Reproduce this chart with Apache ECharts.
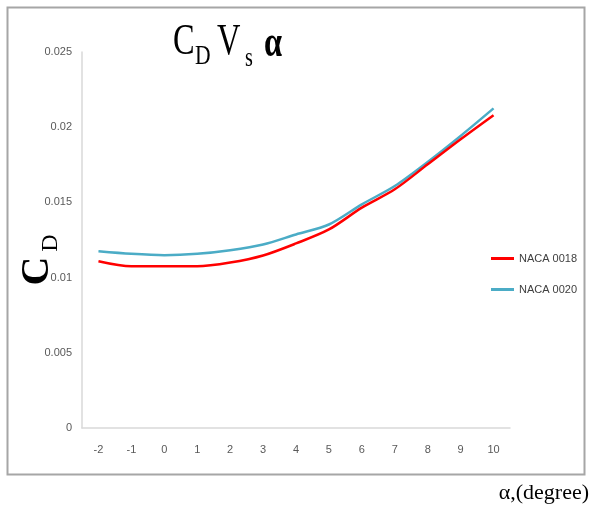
<!DOCTYPE html>
<html>
<head>
<meta charset="utf-8">
<script src="https://cdn.jsdelivr.net/npm/echarts@6/dist/echarts.min.js"></script>
<style>
html,body{margin:0;padding:0;background:#fff;}
#chart{width:590px;height:510px;}
</style>
</head>
<body>
<div id="chart"></div>
<script>
var categories = ['-2','-1','0','1','2','3','4','5','6','7','8','9','10'];
var naca0018 = [0.01109,0.01075,0.01075,0.01075,0.01100,0.01147,0.01227,0.01320,0.01465,0.01587,0.01753,0.01920,0.02080];
var naca0020 = [0.01175,0.01158,0.01149,0.01158,0.01182,0.01220,0.01287,0.01353,0.01487,0.01609,0.01769,0.01942,0.02125];
var seriesNames = ['NACA 0018','NACA 0020'];
var yTicks = {min:0, max:0.025, interval:0.005};

var chart = echarts.init(document.getElementById('chart'));
var serif = '"Liberation Serif","DejaVu Serif",serif';
var sans = '"Liberation Sans",Arial,sans-serif';
var option = {
  animation:false,
  backgroundColor:'#ffffff',
  grid:{left:82, right:80, top:52, bottom:82, containLabel:false},
  legend:{
    orient:'vertical', left:486, top:248, itemGap:20,
    itemWidth:23, itemHeight:3,
    textStyle:{fontFamily:sans, fontSize:11, color:'#404040'},
    data:[
      {name:seriesNames[0], icon:'rect'},
      {name:seriesNames[1], icon:'rect'}
    ]
  },
  xAxis:{
    type:'category', data:categories, boundaryGap:true,
    axisLine:{lineStyle:{color:'#d9d9d9', width:1.5}},
    axisTick:{show:false},
    axisLabel:{color:'#595959', fontFamily:sans, fontSize:11, margin:16}
  },
  yAxis:{
    type:'value', min:yTicks.min, max:yTicks.max, interval:yTicks.interval,
    axisLine:{show:true, lineStyle:{color:'#d9d9d9', width:1.5}},
    axisTick:{show:false},
    splitLine:{show:false},
    axisLabel:{color:'#595959', fontFamily:sans, fontSize:11, margin:10}
  },
  series:[
    {name:seriesNames[0], type:'line', data:naca0018, smooth:0.3, showSymbol:false,
     itemStyle:{color:'#ff0000'}, lineStyle:{color:'#ff0000', width:2.5}, z:3},
    {name:seriesNames[1], type:'line', data:naca0020, smooth:0.3, showSymbol:false,
     itemStyle:{color:'#4bacc6'}, lineStyle:{color:'#4bacc6', width:2.5}, z:2}
  ],
  graphic:[
    {type:'rect', left:5, top:5, shape:{x:0,y:0,width:577,height:467}, style:{fill:'none', stroke:'#a6a6a6', lineWidth:2}, silent:true},
    {type:'text', x:173, y:42, scaleX:0.72, style:{text:'C', font:'45px '+serif, fill:'#000', textAlign:'left', textVerticalAlign:'middle'}},
    {type:'text', x:195, y:57, scaleX:0.8, style:{text:'D', font:'27px '+serif, fill:'#000', textAlign:'left', textVerticalAlign:'middle'}},
    {type:'text', x:217, y:42, scaleX:0.72, style:{text:'V', font:'45px '+serif, fill:'#000', textAlign:'left', textVerticalAlign:'middle'}},
    {type:'text', x:245, y:59, scaleX:0.75, style:{text:'s', font:'27px '+serif, fill:'#000', textAlign:'left', textVerticalAlign:'middle'}},
    {type:'text', x:264, y:44, scaleX:0.72, style:{text:'α', font:'bold 45px '+serif, fill:'#000', textAlign:'left', textVerticalAlign:'middle'}},
    {type:'text', x:38, y:271, rotation:Math.PI/2, style:{text:'C', font:'bold 40px '+serif, fill:'#000', textAlign:'center', textVerticalAlign:'middle'}},
    {type:'text', x:51, y:243, rotation:Math.PI/2, style:{text:'D', font:'24px '+serif, fill:'#000', textAlign:'center', textVerticalAlign:'middle'}},
    {type:'text', x:589, y:493, style:{text:'α,(degree)', font:'22px '+serif, fill:'#000', textAlign:'right', textVerticalAlign:'middle'}}
  ]
};
chart.setOption(option);
</script>
</body>
</html>
